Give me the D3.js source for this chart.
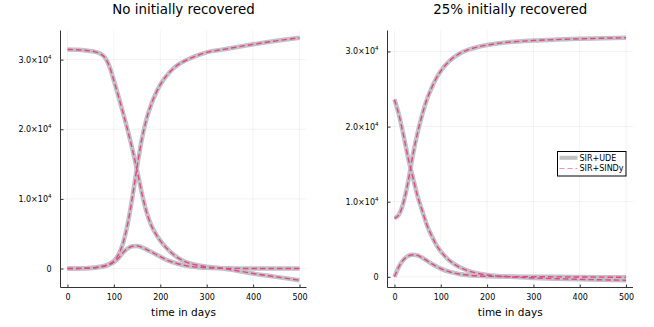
<!DOCTYPE html>
<html>
<head>
<meta charset="utf-8">
<script src="https://cdn.jsdelivr.net/npm/d3@7"></script>
<style>
  body { margin: 0; background: #fff; }
  svg { display: block; font-family: "DejaVu Sans", sans-serif; }
</style>
</head>
<body>
<div id="chart"></div>
<script>
///////////////////////////////////////////////////
//                    DATA                       //
///////////////////////////////////////////////////
var titles = ["No initially recovered", "25% initially recovered"];
var x_label = "time in days";
var legend_labels = ["SIR+UDE", "SIR+SINDy"];
var x_ticks = [0, 100, 200, 300, 400, 500];
var y_ticks = [0, 10000, 20000, 30000];
var y_tick_labels = ["0", "1.0×10", "2.0×10", "3.0×10"];
var y_tick_exps = ["", "4", "4", "4"];

// left panel: no initially recovered
var days_left = [0, 20, 40, 60, 70, 80, 90, 100, 110, 120, 130, 140, 150, 160, 170, 180, 190, 200, 220, 240, 260, 280, 300, 330, 360, 400, 450, 500];
var s_left = [31460, 31420, 31320, 31120, 30880, 30350, 29100, 27000, 24700, 22300, 19800, 17100, 14100, 10900, 8200, 6300, 5000, 4000, 2500, 1450, 800, 480, 250, 50, -250, -720, -1200, -1680];
var i_left = [0, 10, 40, 120, 200, 320, 550, 900, 1500, 2300, 2900, 3200, 3250, 3050, 2750, 2400, 2050, 1700, 1050, 650, 350, 200, 100, 40, 20, 10, 5, 0];
var r_left = [0, 10, 40, 150, 250, 420, 650, 1100, 2000, 3700, 6500, 10300, 14600, 18500, 21400, 23500, 25100, 26400, 28200, 29350, 30050, 30600, 31050, 31400, 31750, 32200, 32700, 33140];

// right panel: 25% initially recovered
var days_right = [0, 10, 20, 30, 40, 50, 60, 70, 80, 90, 100, 120, 140, 160, 180, 200, 250, 300, 350, 400, 450, 500];
var s_right = [23600, 21500, 18700, 15700, 13200, 10700, 8800, 6900, 5500, 4300, 3400, 2100, 1300, 800, 450, 250, 0, -150, -250, -330, -400, -450];
var i_right = [0, 1400, 2300, 2800, 2950, 2850, 2550, 2150, 1750, 1400, 1100, 650, 380, 220, 130, 80, 30, 10, 0, -20, -40, -60];
var r_right = [7800, 8300, 10000, 12800, 16300, 19200, 21600, 23600, 25100, 26400, 27400, 28800, 29700, 30250, 30600, 30850, 31250, 31450, 31580, 31680, 31760, 31820];

///////////////////////////////////////////////////
//                  LAYOUT                       //
///////////////////////////////////////////////////
var W = 654, H = 327;
var panels = [
  { left: 60.5, right: 306.5, top: 30.5, bottom: 287.5, days: days_left, series: [s_left, i_left, r_left], legend: false },
  { left: 387.5, right: 633, top: 30.5, bottom: 287.5, days: days_right, series: [s_right, i_right, r_right], legend: true }
];
var ude_color = "#c2c2c2";
var sindy_color = "#e8438f";

var svg = d3.select("#chart")
  .append("svg")
  .attr("width", W)
  .attr("height", H);

panels.forEach(function (p, k) {
  var g = svg.append("g");

  // scales with 3% padding like Plots.jl
  var xmin = d3.min(p.days), xmax = d3.max(p.days);
  var xpad = (xmax - xmin) * 0.03;
  var x = d3.scaleLinear()
    .domain([xmin - xpad, xmax + xpad])
    .range([p.left, p.right]);

  var all = d3.merge(p.series);
  var ymin = d3.min(all), ymax = d3.max(all);
  var ypad = (ymax - ymin) * 0.03;
  var y = d3.scaleLinear()
    .domain([ymin - ypad, ymax + ypad])
    .range([p.bottom, p.top]);

  // grid
  g.append("g")
    .selectAll("line.vgrid")
    .data(x_ticks)
    .enter().append("line")
    .attr("x1", d => x(d)).attr("x2", d => x(d))
    .attr("y1", p.top).attr("y2", p.bottom)
    .attr("stroke", "#000").attr("stroke-opacity", 0.1).attr("stroke-width", 0.5);

  g.append("g")
    .selectAll("line.hgrid")
    .data(y_ticks)
    .enter().append("line")
    .attr("x1", p.left).attr("x2", p.right)
    .attr("y1", d => y(d)).attr("y2", d => y(d))
    .attr("stroke", "#000").attr("stroke-opacity", 0.1).attr("stroke-width", 0.5);

  // axes (ticks point inward)
  var xAxis = g.append("g")
    .attr("transform", "translate(0," + p.bottom + ")")
    .call(d3.axisBottom(x).tickValues(x_ticks).tickSize(-3).tickPadding(7).tickSizeOuter(0));
  xAxis.select(".domain").attr("stroke", "#333").attr("d", "M" + p.left + ",0H" + p.right);
  xAxis.selectAll(".tick line").attr("stroke", "#333");
  xAxis.selectAll("text").attr("font-size", "8px").attr("fill", "#000")
    .attr("font-family", "DejaVu Sans, sans-serif");

  var yAxis = g.append("g")
    .attr("transform", "translate(" + p.left + ",0)")
    .call(d3.axisLeft(y).tickValues(y_ticks).tickSize(-3).tickPadding(10).tickSizeOuter(0)
      .tickFormat(""));
  yAxis.select(".domain").attr("stroke", "#333").attr("d", "M0," + p.top + "V" + p.bottom);
  yAxis.selectAll(".tick line").attr("stroke", "#333");

  // y tick labels with superscript exponent
  y_ticks.forEach(function (v, j) {
    var t = g.append("text")
      .attr("x", p.left - 9)
      .attr("y", y(v) + 3)
      .attr("text-anchor", "end")
      .attr("font-size", "8px")
      .attr("fill", "#000");
    t.append("tspan").text(y_tick_labels[j]);
    if (y_tick_exps[j]) {
      t.append("tspan")
        .attr("font-size", "5.5px")
        .attr("dy", -4)
        .text(y_tick_exps[j]);
    }
  });

  // titles
  g.append("text")
    .attr("x", (p.left + p.right) / 2)
    .attr("y", 14)
    .attr("text-anchor", "middle")
    .attr("font-size", "13.4px")
    .attr("font-weight", "normal")
    .text(titles[k]);

  g.append("text")
    .attr("x", (p.left + p.right) / 2)
    .attr("y", 316)
    .attr("text-anchor", "middle")
    .attr("font-size", "10.5px")
    .text(x_label);

  // lines
  var line = function (vals) {
    return d3.line()
      .curve(d3.curveMonotoneX)
      .x((d, i) => x(p.days[i]))
      .y(d => y(d))(vals);
  };

  p.series.forEach(function (s) {
    g.append("path")
      .attr("d", line(s))
      .attr("fill", "none")
      .attr("stroke", ude_color)
      .attr("stroke-width", 4.5)
      .attr("stroke-linejoin", "round");
  });
  p.series.forEach(function (s) {
    g.append("path")
      .attr("d", line(s))
      .attr("fill", "none")
      .attr("stroke", sindy_color)
      .attr("stroke-width", 1.4)
      .attr("stroke-dasharray", "5.5,3");
  });

  // legend
  if (p.legend) {
    var lg = g.append("g").attr("transform", "translate(557.5,151.5)");
    lg.append("rect")
      .attr("width", 68.5).attr("height", 24.5)
      .attr("fill", "#fff").attr("stroke", "#000").attr("stroke-width", 1);
    lg.append("line")
      .attr("x1", 2).attr("x2", 20).attr("y1", 6.3).attr("y2", 6.3)
      .attr("stroke", ude_color).attr("stroke-width", 4);
    lg.append("line")
      .attr("x1", 2).attr("x2", 20).attr("y1", 17).attr("y2", 17)
      .attr("stroke", sindy_color).attr("stroke-opacity", 0.6)
      .attr("stroke-width", 1.2).attr("stroke-dasharray", "5,3");
    lg.selectAll("text.lab")
      .data(legend_labels)
      .enter().append("text")
      .attr("x", 22)
      .attr("y", (d, i) => 9.2 + i * 10.7)
      .attr("font-size", "8px")
      .text(d => d);
  }
});
</script>
</body>
</html>
